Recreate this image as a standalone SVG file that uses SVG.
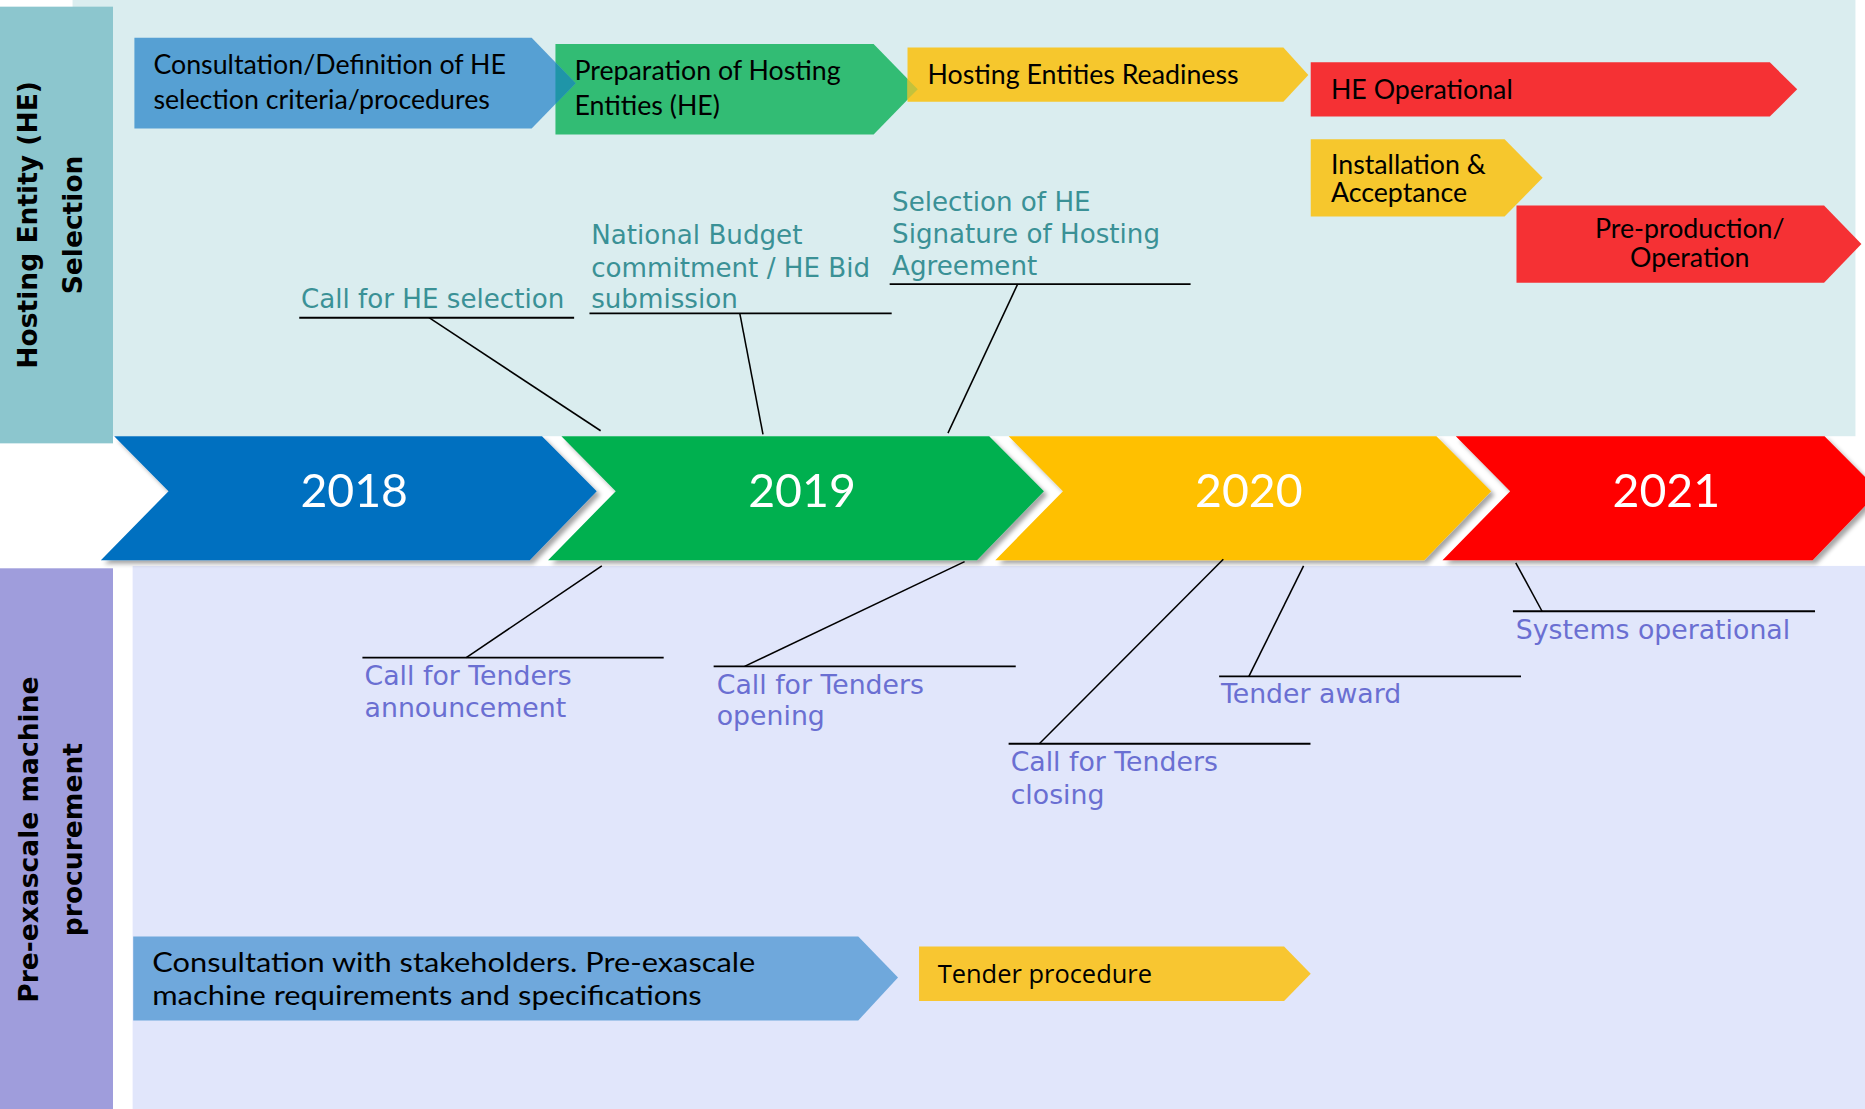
<svg xmlns="http://www.w3.org/2000/svg" width="1865" height="1109" viewBox="0 0 1865 1109">
<defs>
<style>
.box{font-family:Lato,"Liberation Sans",sans-serif;font-size:22.5px;fill:#000}
.boxb{font-family:Lato,"Liberation Sans",sans-serif;font-size:23px;fill:#000}
.tp{font-family:"Open Sans","Liberation Sans",sans-serif;font-size:21.4px;fill:#000}
.yr{font-family:Lato,"Liberation Sans",sans-serif;font-size:39px;fill:#fff;text-anchor:middle}
.lt{font-family:"DejaVu Sans",Verdana,sans-serif;font-size:22px;fill:#3A9196}
.lb{font-family:"DejaVu Sans",Verdana,sans-serif;font-size:22.5px;fill:#6A6FD2}
.lane{font-family:"DejaVu Sans",Verdana,sans-serif;font-weight:bold;font-size:22.3px;fill:#000;text-anchor:middle}
.ul{stroke:#000;stroke-width:1.6;fill:none}
.ld{stroke:#000;stroke-width:1.3;fill:none}
</style>
<filter id="sh" x="-5%" y="-10%" width="115%" height="130%">
<feDropShadow dx="3" dy="3" stdDeviation="2" flood-color="#000" flood-opacity="0.35"/>
</filter>
</defs>
<rect x="0" y="0" width="1865" height="1109" fill="#fff"/>
<g transform="scale(1.1894,1.1899)">
<!-- panels -->
<g id="panels">
<rect x="61" y="0" width="1499" height="366.6" fill="#DAEDEF"/>
<rect x="111.5" y="475.6" width="1460" height="460" fill="#E1E6FB"/>
</g>
<g id="lane-he">
<rect x="0" y="5.6" width="95" height="367" fill="#8CC6CE"/>
<text class="lane" transform="translate(31,189) rotate(-90)">Hosting Entity (HE)</text>
<text class="lane" transform="translate(69,189) rotate(-90)">Selection</text>
</g>
<g id="lane-proc">
<rect x="0" y="477.6" width="95" height="458" fill="#9F9DDC"/>
<text class="lane" transform="translate(32,705.6) rotate(-90)">Pre-exascale machine</text>
<text class="lane" transform="translate(69,705.6) rotate(-90)">procurement</text>
</g>
<!-- timeline -->
<g id="year-2018" filter="url(#sh)">
<polygon points="96,366.6 455.7,366.6 501.7,412.8 445.4,470.8 84.8,470.8 141.7,412.8" fill="#0070C0"/>
<text class="yr" x="297.8" y="426.5">2018</text>
</g>
<g id="year-2019" filter="url(#sh)">
<polygon points="472,366.6 831.7,366.6 877.7,412.8 821.4,470.8 460.8,470.8 517.7,412.8" fill="#00B050"/>
<text class="yr" x="674.3" y="426.5">2019</text>
</g>
<g id="year-2020" filter="url(#sh)">
<polygon points="848,366.6 1207.7,366.6 1253.7,412.8 1197.4,470.8 836.8,470.8 893.7,412.8" fill="#FFC000"/>
<text class="yr" x="1050" y="426.5">2020</text>
</g>
<g id="year-2021" filter="url(#sh)">
<polygon points="1224,366.6 1534,366.6 1580,412.8 1524,470.8 1212.8,470.8 1269.7,412.8" fill="#FF0000"/>
<text class="yr" x="1401" y="426.5">2021</text>
</g>
<!-- top phase boxes -->
<g id="he-preparation">
<polygon points="467,37 734.5,37 771.6,75 734.5,113 467,113" fill="#32BC74"/>
<text class="box" x="483" y="67.3">Preparation of Hosting</text>
<text class="box" x="483" y="96.7">Entities (HE)</text>
</g>
<g id="he-readiness">
<polygon points="763,40 1079,40 1100,63 1079,85.5 763,85.5" fill="#F6C72D"/>
<polygon points="763,66.3 771.6,75 763,83.7" fill="#C3C23C"/>
<text class="box" x="779.8" y="70.5">Hosting Entities Readiness</text>
</g>
<g id="he-consultation">
<polygon points="113,31.7 447,31.7 484,70 447,108 113,108" fill="#56A0D3"/>
<polygon points="467,52.5 484,70 467,87.5" fill="#1F95A8"/>
<text class="box" x="129" y="62.5">Consultation/Definition of HE</text>
<text class="box" x="129" y="91.5">selection criteria/procedures</text>
</g>
<g id="he-operational">
<polygon points="1102,52.4 1488,52.4 1511,75 1488,98 1102,98" fill="#F53134"/>
<text class="box" x="1119" y="83.5">HE Operational</text>
</g>
<g id="installation">
<polygon points="1102,117 1265,117 1297,149.4 1265,182 1102,182" fill="#F6C72D"/>
<text class="box" x="1119" y="146">Installation &amp;</text>
<text class="box" x="1119" y="170">Acceptance</text>
</g>
<g id="preproduction">
<polygon points="1275,172.6 1533.6,172.6 1565,205 1533.6,237.7 1275,237.7" fill="#F53134"/>
<text class="box" x="1420.7" y="200" text-anchor="middle">Pre-production/</text>
<text class="box" x="1420.7" y="224" text-anchor="middle">Operation</text>
</g>
<!-- bottom phase boxes -->
<g id="proc-consultation">
<polygon points="112,787 721.6,787 755,821.6 721.6,857.6 112,857.6" fill="#6FA8DC"/>
<text class="boxb" x="128" y="816.5" textLength="507" lengthAdjust="spacingAndGlyphs">Consultation with stakeholders. Pre-exascale</text>
<text class="boxb" x="128" y="844.5" textLength="462" lengthAdjust="spacingAndGlyphs">machine requirements and specifications</text>
</g>
<g id="tender-procedure">
<polygon points="772.7,795.4 1079.6,795.4 1102,818.3 1079.6,841.3 772.7,841.3" fill="#F8C631"/>
<text class="tp" x="788.4" y="826.2">Tender procedure</text>
</g>
<!-- milestone labels -->
<g id="m-call-he">
<text class="lt" x="253" y="259">Call for HE selection</text>
<line class="ul" x1="251.6" y1="267" x2="482.7" y2="267"/>
</g>
<g id="m-budget">
<text class="lt" x="497" y="205">National Budget</text>
<text class="lt" x="497" y="232.6">commitment / HE Bid</text>
<text class="lt" x="497" y="259">submission</text>
<line class="ul" x1="495.6" y1="263.4" x2="749.7" y2="263.4"/>
</g>
<g id="m-selection">
<text class="lt" x="750" y="177">Selection of HE</text>
<text class="lt" x="750" y="204.5">Signature of Hosting</text>
<text class="lt" x="750" y="231">Agreement</text>
<line class="ul" x1="748" y1="238.8" x2="1001" y2="238.8"/>
</g>
<g id="m-announcement">
<line class="ul" x1="304.7" y1="552.7" x2="558" y2="552.7"/>
<text class="lb" x="306.5" y="576">Call for Tenders</text>
<text class="lb" x="306.5" y="602.5">announcement</text>
</g>
<g id="m-opening">
<line class="ul" x1="600" y1="560" x2="854" y2="560"/>
<text class="lb" x="602.6" y="583">Call for Tenders</text>
<text class="lb" x="602.6" y="609.6">opening</text>
</g>
<g id="m-closing">
<line class="ul" x1="848" y1="625" x2="1101.8" y2="625"/>
<text class="lb" x="849.7" y="648">Call for Tenders</text>
<text class="lb" x="849.7" y="675.4">closing</text>
</g>
<g id="m-award">
<line class="ul" x1="1025" y1="568.4" x2="1278.8" y2="568.4"/>
<text class="lb" x="1026.5" y="590.8">Tender award</text>
</g>
<g id="m-systems">
<line class="ul" x1="1272" y1="513.7" x2="1526" y2="513.7"/>
<text class="lb" x="1274.4" y="536.7">Systems operational</text>
</g>
<!-- connectors -->
<g id="connectors">
<line class="ld" x1="360.7" y1="267" x2="505" y2="362"/>
<line class="ld" x1="622" y1="263.4" x2="641.5" y2="365"/>
<line class="ld" x1="855.6" y1="238.8" x2="797" y2="364"/>
<line class="ld" x1="392" y1="552.7" x2="506" y2="475.6"/>
<line class="ld" x1="626" y1="560" x2="811" y2="472"/>
<line class="ld" x1="873.8" y1="625" x2="1028.5" y2="470"/>
<line class="ld" x1="1050" y1="568.4" x2="1096" y2="475.6"/>
<line class="ld" x1="1296.5" y1="513.7" x2="1274.4" y2="473"/>
</g>
</g>
</svg>
